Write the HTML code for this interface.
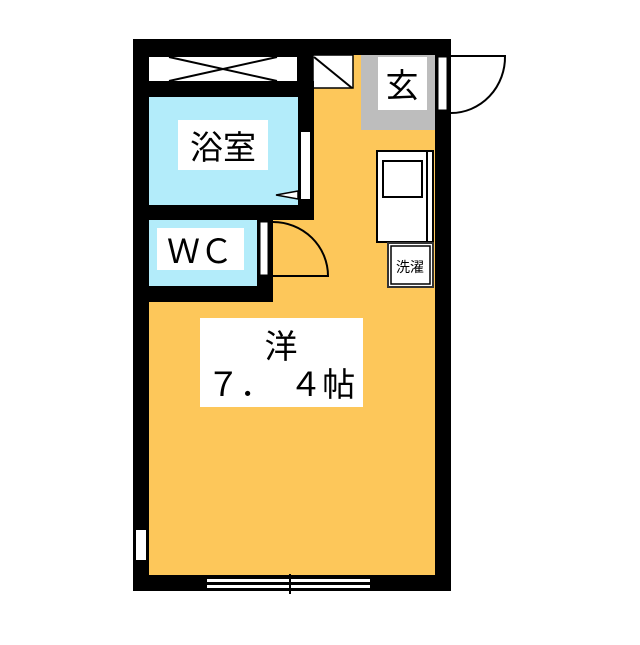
<!DOCTYPE html>
<html><head><meta charset="utf-8"><style>
body{margin:0;background:#fff;}
svg text{font-family:"Liberation Sans","Noto Sans CJK JP",sans-serif;}
</style></head><body>
<svg width="640" height="640" xmlns="http://www.w3.org/2000/svg">
<rect width="640" height="640" fill="#fff"/>
<rect x="133" y="39" width="318" height="552" fill="#000"/>
<rect x="149" y="55" width="286" height="520" fill="#fdc75a"/>
<rect x="361" y="55" width="74" height="75" fill="#bdbdbd"/>
<rect x="378" y="57" width="49" height="53" fill="#fff"/>
<text x="402" y="97" font-size="33" text-anchor="middle">玄</text>
<rect x="438" y="57" width="9" height="53" fill="#fff" stroke="#000" stroke-width="1"/>
<path d="M451 56 L505 56 A54 56 0 0 1 451 113" fill="#fff" stroke="#000" stroke-width="2"/>
<rect x="149" y="55" width="164" height="42" fill="#000"/>
<rect x="149" y="57" width="148" height="24" fill="#fff"/>
<path d="M169 57 L277 81 M169 81 L277 57" stroke="#000" stroke-width="2"/>
<rect x="313" y="55" width="40" height="33" fill="#fff" stroke="#000" stroke-width="1.5"/>
<path d="M314 57 L352 88" stroke="#000" stroke-width="2"/>
<rect x="133" y="81" width="181" height="139" fill="#000"/>
<rect x="149" y="97" width="149" height="108" fill="#b3ecfa"/>
<rect x="178" y="120" width="90" height="50" fill="#fff"/>
<text x="223" y="159" font-size="33" text-anchor="middle">浴室</text>
<rect x="301" y="132" width="9" height="67" fill="#fff"/>
<path d="M298 191 L276 195 L298 199 Z" fill="#fff" stroke="#000" stroke-width="1.5"/>
<rect x="133" y="220" width="140" height="82" fill="#000"/>
<rect x="149" y="220" width="108" height="66" fill="#b3ecfa"/>
<rect x="157" y="228" width="87" height="42" fill="#fff"/>
<text x="200" y="263" font-size="33" text-anchor="middle">ＷＣ</text>
<rect x="260" y="222" width="8" height="53" fill="#fff" stroke="#000" stroke-width="1"/>
<path d="M273 222 A55 54 0 0 1 328 276 L273 276" fill="none" stroke="#000" stroke-width="2"/>
<rect x="377" y="151" width="56" height="91" fill="#fff" stroke="#000" stroke-width="2"/>
<rect x="383" y="161" width="39" height="36" fill="#fff" stroke="#000" stroke-width="2"/>
<line x1="427" y1="151" x2="427" y2="242" stroke="#000" stroke-width="2"/>
<rect x="388" y="243" width="45" height="44" fill="#fff" stroke="#333" stroke-width="2"/>
<rect x="391" y="246" width="39" height="38" fill="#fff" stroke="#000" stroke-width="1.5"/>
<text x="410" y="272" font-size="14" text-anchor="middle">洗濯</text>
<rect x="200" y="318" width="163" height="89" fill="#fff"/>
<text x="281" y="358" font-size="33" text-anchor="middle">洋</text>
<text x="281" y="396" font-size="33" text-anchor="middle">７．　４帖</text>
<rect x="136" y="530" width="10" height="30" fill="#fff"/>
<rect x="207" y="579" width="163" height="3" fill="#fff"/>
<rect x="207" y="585" width="163" height="3" fill="#fff"/>
<line x1="290" y1="574" x2="290" y2="594" stroke="#000" stroke-width="2"/>
</svg>
</body></html>
